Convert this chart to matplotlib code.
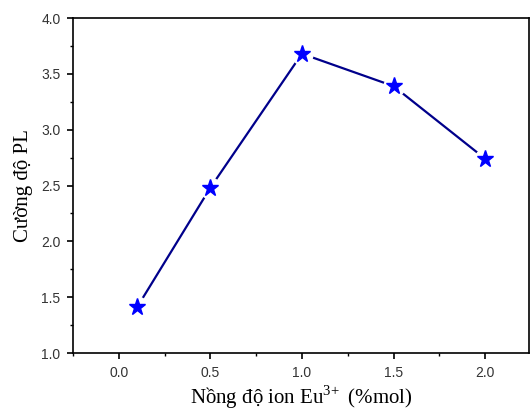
import matplotlib
matplotlib.use("Agg")
import matplotlib.pyplot as plt
from matplotlib.ticker import MultipleLocator, FormatStrFormatter

# Data
conc = [0.1, 0.5, 1.0, 1.5, 2.0]
intensity = [1.41, 2.48, 3.68, 3.39, 2.74]

plt.rcParams["mathtext.fontset"] = "custom"
plt.rcParams["mathtext.rm"] = "Liberation Serif"

fig = plt.figure(figsize=(5.3, 4.12), dpi=100)
ax = fig.add_axes([0.1377, 0.1432, 0.8605, 0.8131])

ax.plot(conc, intensity, color="#00008B", linewidth=1.6, zorder=2)
# white halo to leave a gap around markers, Origin style
ax.plot(conc, intensity, linestyle="none", marker="o", markersize=15,
        markerfacecolor="white", markeredgecolor="white", zorder=3)
ax.plot(conc, intensity, linestyle="none", marker="*", markersize=12.5,
        color="#0000FF", markeredgecolor="#0000FF", zorder=4)

ax.set_xlim(-0.25, 2.24)
ax.set_ylim(1.0, 4.0)
ax.xaxis.set_major_locator(MultipleLocator(0.5))
ax.xaxis.set_minor_locator(MultipleLocator(0.25))
ax.yaxis.set_major_locator(MultipleLocator(0.5))
ax.yaxis.set_minor_locator(MultipleLocator(0.25))
ax.xaxis.set_major_formatter(FormatStrFormatter("%.1f"))
ax.yaxis.set_major_formatter(FormatStrFormatter("%.1f"))
ax.tick_params(which="major", direction="out", length=4, width=1.2,
               labelsize=10, pad=5, labelcolor="#333333")
ax.tick_params(which="minor", direction="out", length=2.5, width=1.0)
for lab in ax.get_xticklabels() + ax.get_yticklabels():
    lab.set_fontfamily("Liberation Sans")
for s in ax.spines.values():
    s.set_linewidth(1.2)

ax.set_xlabel("Nồng độ ion Eu$^{\\mathregular{3\\!+}}$ (%mol)",
              fontfamily="Liberation Serif", fontsize=15, labelpad=3)
ax.set_ylabel("Cường độ PL", fontfamily="Liberation Serif", fontsize=15,
              labelpad=6)

fig.savefig("out.png", dpi=100)
